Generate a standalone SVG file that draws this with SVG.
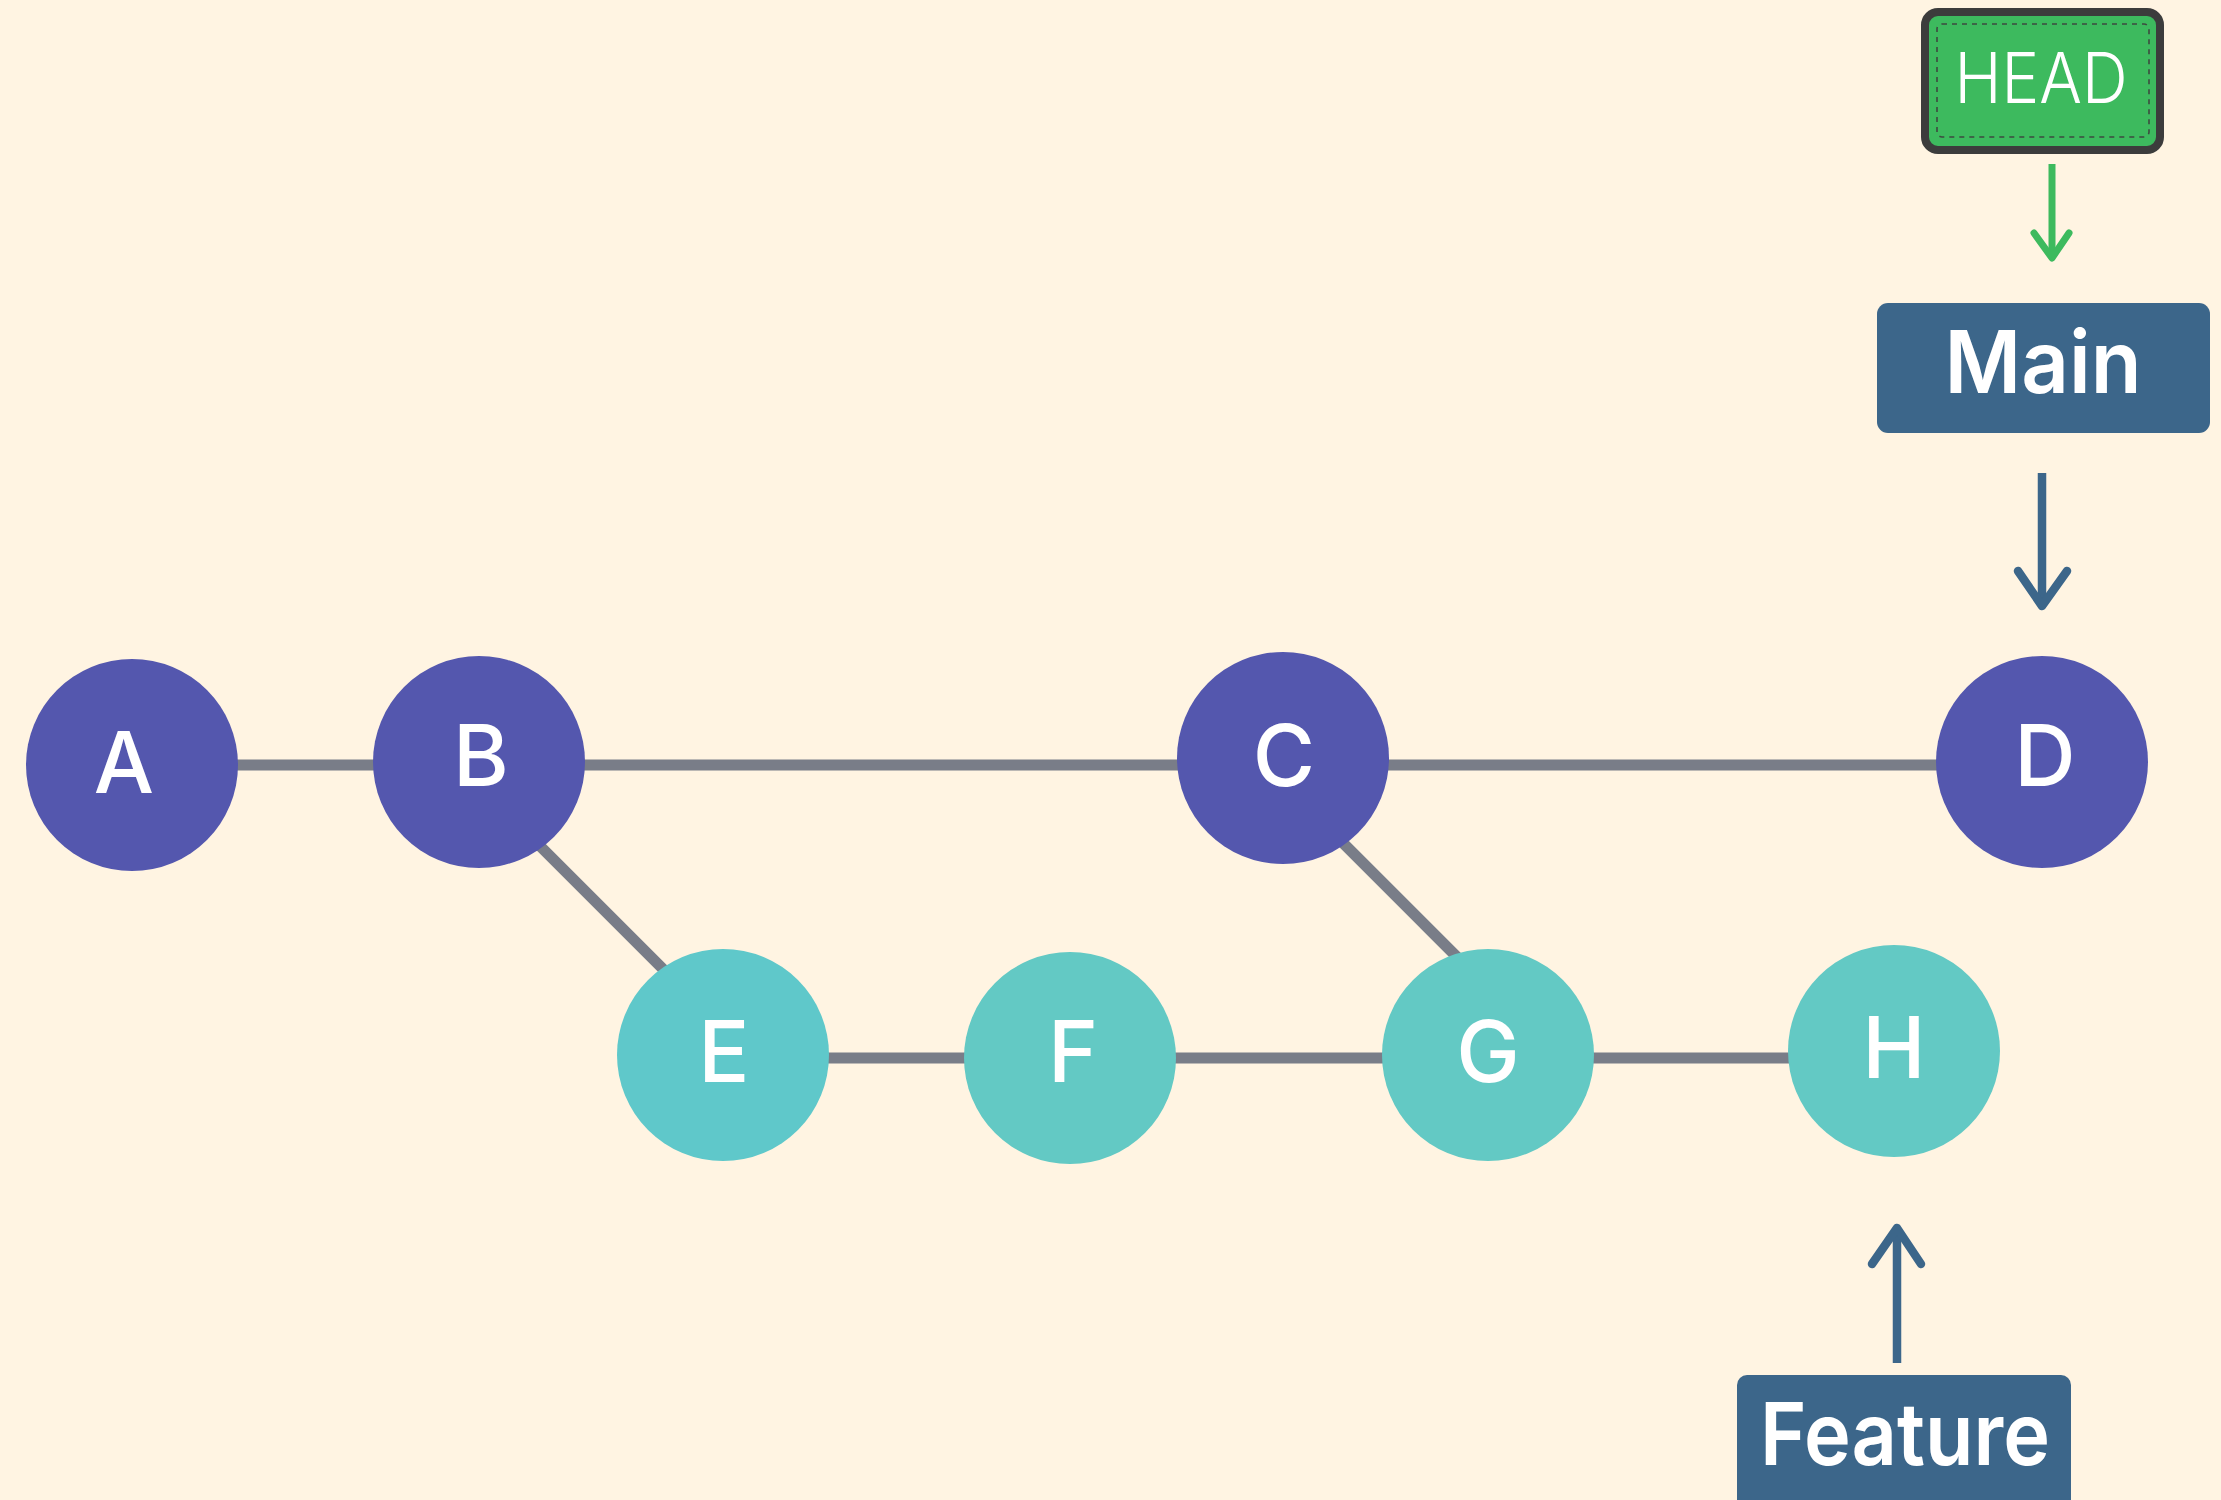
<svg xmlns="http://www.w3.org/2000/svg" width="2221" height="1500" viewBox="0 0 2221 1500">
<style>
.edge{stroke:#797d88;stroke-width:11;fill:none}
.main{fill:#5457ae}
.feat{fill:#63c9c4}
.lbl{font-family:Inter,"Noto Sans","Liberation Sans",sans-serif;font-weight:500;font-size:85px;fill:#fff;text-anchor:middle}
.branch{fill:#3c668a}
.btxt{font-family:Inter,"Noto Sans","Liberation Sans",sans-serif;font-weight:600;font-size:87px;fill:#fff;text-anchor:middle}
.arr{fill:none;stroke-linejoin:round}
</style>
<rect width="2221" height="1500" fill="#fff4e2"/>
<g id="connectors">
<line class="edge" x1="132" y1="765" x2="2042" y2="765"/>
<line class="edge" x1="723" y1="1058" x2="1894" y2="1058"/>
<line class="edge" x1="460" y1="766" x2="740" y2="1046"/>
<line class="edge" x1="1270" y1="770" x2="1500" y2="1000"/>
<g class="arr" stroke="#3dba5e" stroke-width="7">
<line x1="2052" y1="164" x2="2052" y2="256"/>
<polyline points="2034,233 2052,258 2069,233" stroke-linecap="round"/>
</g>
<g class="arr" stroke="#3c668a" stroke-width="8.5">
<line x1="2042" y1="473" x2="2042" y2="604"/>
<polyline points="2018,571 2042,606 2067,571" stroke-linecap="round"/>
<line x1="1897" y1="1363" x2="1897" y2="1230"/>
<polyline points="1872,1264 1897,1228 1921,1264" stroke-linecap="round"/>
</g>
</g>
<g id="node-A"><circle class="main" cx="132" cy="765" r="106"/><text class="lbl" x="124" y="793">A</text></g>
<g id="node-B"><circle class="main" cx="479" cy="762" r="106"/><text class="lbl" x="481" y="786">B</text></g>
<g id="node-C"><circle class="main" cx="1283" cy="758" r="106"/><text class="lbl" x="1284" y="786">C</text></g>
<g id="node-D"><circle class="main" cx="2042" cy="762" r="106"/><text class="lbl" x="2045" y="786">D</text></g>
<g id="node-E"><circle class="feat" cx="723" cy="1055" r="106" style="fill:#5fc8ca"/><text class="lbl" x="724" y="1082">E</text></g>
<g id="node-F"><circle class="feat" cx="1070" cy="1058" r="106"/><text class="lbl" x="1073" y="1082">F</text></g>
<g id="node-G"><circle class="feat" cx="1488" cy="1055" r="106"/><text class="lbl" x="1488" y="1082">G</text></g>
<g id="node-H"><circle class="feat" cx="1894" cy="1051" r="106"/><text class="lbl" x="1894" y="1078">H</text></g>
<g id="HEAD">
<rect x="1925" y="12" width="235" height="138" rx="13" fill="#3dba5e" stroke="#3c3c3c" stroke-width="8"/>
<rect x="1937" y="24" width="212" height="113" rx="5" fill="none" stroke="#3d4a40" stroke-width="1.6" stroke-dasharray="5 5"/>
<text x="2041" y="103" font-family="Inter,'Noto Sans','Liberation Sans',sans-serif" font-weight="300" font-size="70" fill="#fff" text-anchor="middle" textLength="173" lengthAdjust="spacingAndGlyphs">HEAD</text>
</g>
<g id="Main">
<rect class="branch" x="1877" y="303" width="333" height="130" rx="11"/>
<text class="btxt" x="2043" y="393" textLength="197" lengthAdjust="spacingAndGlyphs">Main</text>
</g>
<g id="Feature">
<rect class="branch" x="1737" y="1375" width="334" height="140" rx="10"/>
<text class="btxt" x="1905" y="1465" textLength="290" lengthAdjust="spacingAndGlyphs">Feature</text>
</g>
</svg>
